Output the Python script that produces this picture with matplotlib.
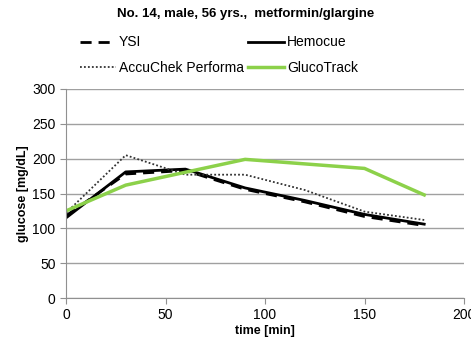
import matplotlib
matplotlib.use("Agg")
import matplotlib.pyplot as plt

plt.rcParams['font.family'] = ['Liberation Sans', 'DejaVu Sans']

time = [0, 30, 60, 90, 120, 150, 180]
ysi = [118, 178, 183, 156, 138, 117, 104]
hemocue = [115, 181, 185, 158, 140, 120, 106]
accuchek = [122, 205, 177, 177, 155, 124, 112]
gluco_time = [0, 30, 90, 150, 180]
glucotrack = [125, 162, 199, 186, 148]

title = "No. 14, male, 56 yrs.,  metformin/glargine"
xticks = [0, 50, 100, 150, 200]
yticks = [0, 50, 100, 150, 200, 250, 300]

W, H = 471, 348
fig = plt.figure(figsize=(W/100, H/100), dpi=100)
ax = fig.add_axes([66/W, 1-298/H, (464-66)/W, (298-89)/H])

green = '#8cd14a'
l_ysi, = ax.plot(time, ysi, color='black', lw=2, linestyle=(0, (4, 2.5)), label='YSI')
l_hem, = ax.plot(time, hemocue, color='black', lw=2, label='Hemocue')
l_acc, = ax.plot(time, accuchek, color='#333333', lw=1.3, linestyle=(0, (1, 1.2)), label='AccuChek Performa')
l_glu, = ax.plot(gluco_time, glucotrack, color=green, lw=2.5, label='GlucoTrack')

ax.set_xlim(0, 200)
ax.set_ylim(0, 300)
ax.set_xticks(xticks)
ax.set_yticks(yticks)
ax.yaxis.grid(True, color='#a0a0a0', lw=1)
ax.set_axisbelow(True)
for s in ['top', 'right']:
    ax.spines[s].set_visible(False)
for s in ['left', 'bottom']:
    ax.spines[s].set_color('#909090')
ax.tick_params(axis='both', colors='#909090', labelcolor='black', labelsize=10, length=4, direction='out')
ax.set_xlabel('time [min]', fontsize=9, fontweight='bold', labelpad=2)
ax.set_ylabel('glucose [mg/dL]', fontsize=9, fontweight='bold', labelpad=2)

fig.text(0.5 + 10/W, 1-14/H, title, ha='center', va='center', fontsize=9.5, fontweight='bold')

fig.legend(handles=[l_ysi, l_acc, l_hem, l_glu], ncol=2, loc='center',
           bbox_to_anchor=(219/W, 1-55/H), frameon=False, fontsize=10,
           handlelength=2.6, handletextpad=0.2, columnspacing=0.3, labelspacing=0.8)

fig.savefig('out.png', dpi=100)
